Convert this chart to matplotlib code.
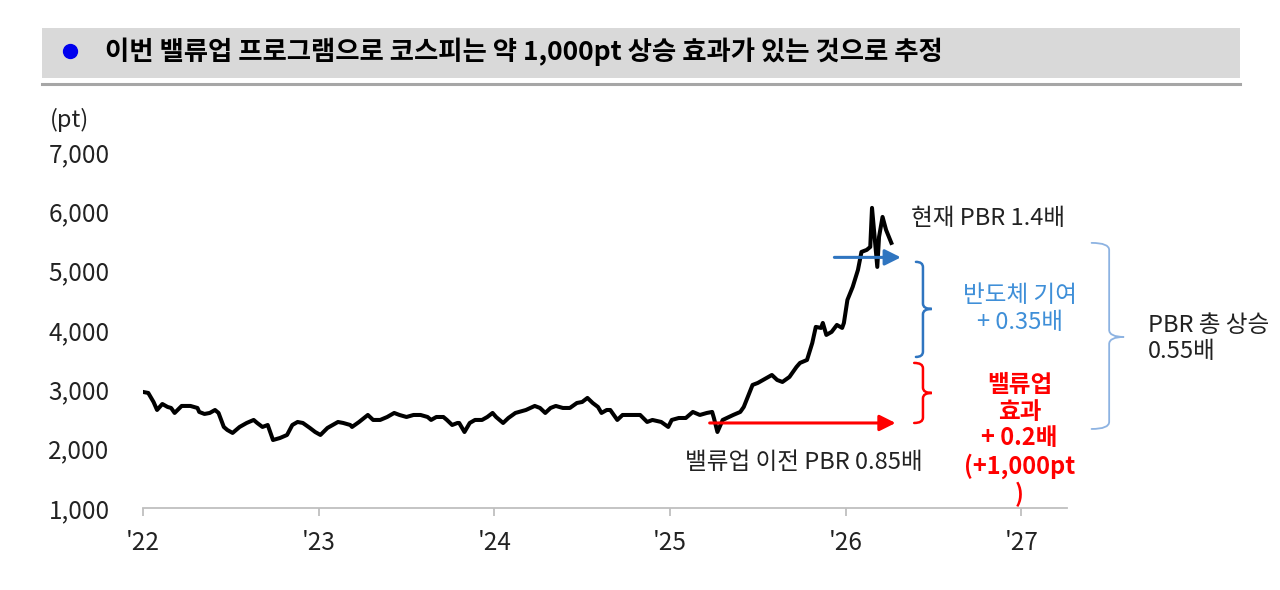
import matplotlib
matplotlib.use("Agg")
import matplotlib.pyplot as plt
from matplotlib.lines import Line2D
from matplotlib.patches import Rectangle, PathPatch
from matplotlib.path import Path

plt.rcParams["font.family"] = ["Noto Sans CJK KR", "DejaVu Sans"]

# KOSPI level (x = fractional year)
DATES = [
    2022.00, 2022.03, 2022.06, 2022.08, 2022.11, 2022.14, 2022.16, 2022.18, 2022.22, 2022.27,
    2022.31, 2022.32, 2022.35, 2022.38, 2022.41, 2022.43, 2022.46, 2022.48, 2022.51, 2022.55,
    2022.59, 2022.63, 2022.65, 2022.68, 2022.71, 2022.73, 2022.74, 2022.78, 2022.82, 2022.85,
    2022.88, 2022.91, 2022.95, 2022.98, 2023.01, 2023.05, 2023.08, 2023.11, 2023.14, 2023.18,
    2023.19, 2023.23, 2023.28, 2023.31, 2023.35, 2023.39, 2023.43, 2023.46, 2023.50, 2023.54,
    2023.58, 2023.62, 2023.64, 2023.67, 2023.71, 2023.73, 2023.76, 2023.79, 2023.80, 2023.83,
    2023.86, 2023.89, 2023.93, 2023.96, 2023.99, 2024.01, 2024.05, 2024.08, 2024.12, 2024.14,
    2024.18, 2024.23, 2024.26, 2024.29, 2024.32, 2024.35, 2024.39, 2024.43, 2024.47, 2024.50,
    2024.53, 2024.56, 2024.59, 2024.61, 2024.64, 2024.66, 2024.70, 2024.73, 2024.77, 2024.83,
    2024.87, 2024.90, 2024.95, 2024.99, 2025.01, 2025.05, 2025.09, 2025.13, 2025.17, 2025.21,
    2025.24, 2025.25, 2025.27, 2025.30, 2025.36, 2025.40, 2025.42, 2025.47, 2025.50, 2025.55,
    2025.58, 2025.61, 2025.64, 2025.68, 2025.72, 2025.74, 2025.78, 2025.81, 2025.83, 2025.86,
    2025.87, 2025.89, 2025.92, 2025.95, 2025.98, 2025.99, 2026.01, 2026.04, 2026.07, 2026.09,
    2026.12, 2026.14, 2026.15, 2026.18, 2026.19, 2026.21, 2026.23, 2026.26,
]
KOSPI = [
    2956, 2939, 2787, 2652, 2753, 2703, 2686, 2602, 2720, 2720,
    2686, 2619, 2585, 2602, 2652, 2602, 2366, 2315, 2265, 2366,
    2433, 2484, 2433, 2366, 2399, 2231, 2146, 2180, 2231, 2399,
    2450, 2433, 2349, 2281, 2231, 2349, 2399, 2450, 2433, 2399,
    2366, 2450, 2568, 2484, 2484, 2534, 2602, 2568, 2534, 2568,
    2568, 2534, 2484, 2534, 2534, 2484, 2399, 2433, 2433, 2281,
    2433, 2484, 2484, 2534, 2602, 2534, 2433, 2517, 2602, 2619,
    2652, 2720, 2686, 2602, 2686, 2720, 2686, 2686, 2770, 2787,
    2855, 2770, 2703, 2602, 2652, 2652, 2484, 2568, 2568, 2568,
    2450, 2484, 2450, 2366, 2484, 2517, 2517, 2619, 2568, 2602,
    2619, 2517, 2281, 2484, 2568, 2619, 2703, 3074, 3108, 3192,
    3242, 3158, 3124, 3209, 3377, 3445, 3495, 3782, 4052, 4035,
    4119, 3917, 3968, 4085, 4035, 4119, 4507, 4726, 5013, 5316,
    5350, 5400, 6058, 5063, 5569, 5906, 5687, 5468,
]

YEAR_TICKS = [2022, 2023, 2024, 2025, 2026, 2027]
YEAR_LABELS = ["'22", "'23", "'24", "'25", "'26", "'27"]
Y_TICKS = [1000, 2000, 3000, 4000, 5000, 6000, 7000]

# annotation levels
PRE_VALUEUP = 2433      # red arrow level
CURRENT = 5224          # blue arrow level

TEXT = "#222222"
BLUE = "#2f75c0"
LIGHT_BLUE_TXT = "#3f8fd8"
BRACE_LIGHT = "#8db3e2"
RED = "#ff0000"
FS = 17


def brace(ax, xl, xv, xn, yt, ym, yb, h, color, lw):
    """Right-facing curly brace drawn in data coordinates."""
    verts = [
        (xl, yt), (xv, yt), (xv, yt - h),
        (xv, ym + h),
        (xv, ym), (xn, ym),
        (xv, ym), (xv, ym - h),
        (xv, yb + h),
        (xv, yb), (xl, yb),
    ]
    codes = [
        Path.MOVETO, Path.CURVE3, Path.CURVE3,
        Path.LINETO,
        Path.CURVE3, Path.CURVE3,
        Path.CURVE3, Path.CURVE3,
        Path.LINETO,
        Path.CURVE3, Path.CURVE3,
    ]
    ax.add_patch(PathPatch(Path(verts, codes), fill=False, edgecolor=color,
                           lw=lw, clip_on=False, capstyle="round"))


fig = plt.figure(figsize=(12.8, 5.9), dpi=100)

# header bar
fig.add_artist(Rectangle((42 / 1280, 1 - 78 / 590), 1198 / 1280, 50 / 590,
                         transform=fig.transFigure, facecolor="#d9d9d9", edgecolor="none"))
fig.add_artist(Line2D([42 / 1280, 1240 / 1280], [1 - 84 / 590, 1 - 84 / 590],
                      transform=fig.transFigure, color="#a6a6a6", lw=2.2))
fig.add_artist(Line2D([70 / 1280], [1 - 51 / 590], transform=fig.transFigure,
                      marker="o", ms=10, color="#0000ee", linestyle="none"))
fig.text(105 / 1280, 1 - 52 / 590,
         "이번 밸류업 프로그램으로 코스피는 약 1,000pt 상승 효과가 있는 것으로 추정",
         fontsize=19, fontweight="bold", va="center", ha="left", color="black")

ax = fig.add_axes([143 / 1280, 1 - 508 / 590, 924 / 1280, 356 / 590])
ax.plot(DATES, KOSPI, color="black", lw=2.9, solid_joinstyle="round")

ax.set_xlim(2022, 2027.26)
ax.set_ylim(1000, 7000)
ax.set_xticks(YEAR_TICKS)
ax.set_xticklabels(YEAR_LABELS)
ax.set_yticks(Y_TICKS)
ax.set_yticklabels([f"{v:,}" for v in Y_TICKS])
for s in ["top", "right", "left"]:
    ax.spines[s].set_visible(False)
ax.spines["bottom"].set_color("#bfbfbf")
ax.spines["bottom"].set_linewidth(1.3)
ax.tick_params(axis="x", length=6, width=1.3, color="#bfbfbf", pad=10,
               labelsize=17.5, labelcolor=TEXT)
ax.tick_params(axis="y", length=0, pad=24, labelsize=17.5, labelcolor=TEXT)
fig.text(70 / 1280, 1 - 120 / 590, "(pt)", fontsize=FS, color=TEXT,
         ha="center", va="center")

# arrows
ax.annotate("", xy=(2026.30, PRE_VALUEUP), xytext=(2025.21, PRE_VALUEUP),
            arrowprops=dict(arrowstyle="-|>", color=RED, lw=2.2, mutation_scale=24),
            annotation_clip=False)
ax.annotate("", xy=(2026.33, CURRENT), xytext=(2025.92, CURRENT),
            arrowprops=dict(arrowstyle="-|>", color=BLUE, lw=2.2, mutation_scale=24),
            annotation_clip=False)

# braces
brace(ax, 2026.40, 2026.44, 2026.49, 5148, 4355, 3546, 90, BLUE, 1.8)
brace(ax, 2026.39, 2026.44, 2026.49, 3445, 2939, 2433, 90, RED, 1.8)
brace(ax, 2027.40, 2027.50, 2027.585, 5468, 3883, 2332, 120, BRACE_LIGHT, 1.3)

# texts
ax.text(2026.37, 5873, "현재 PBR 1.4배", fontsize=FS, color=TEXT,
        ha="left", va="center", clip_on=False)
ax.text(2025.76, 1759, "밸류업 이전 PBR 0.85배", fontsize=FS, color=TEXT,
        ha="center", va="center", clip_on=False)
ax.text(2026.99, 4355, "반도체 기여\n+ 0.35배", fontsize=FS, color=LIGHT_BLUE_TXT,
        ha="center", va="center", linespacing=1.22, clip_on=False)
ax.text(2026.99, 2146, "밸류업\n효과\n+ 0.2배\n(+1,000pt\n)", fontsize=FS,
        fontweight="bold", color=RED, ha="center", va="center",
        linespacing=1.15, clip_on=False)
ax.text(2027.72, 3849, "PBR 총 상승\n0.55배", fontsize=FS, color=TEXT,
        ha="left", va="center", linespacing=1.17, clip_on=False)

fig.savefig("out.png", dpi=100)
